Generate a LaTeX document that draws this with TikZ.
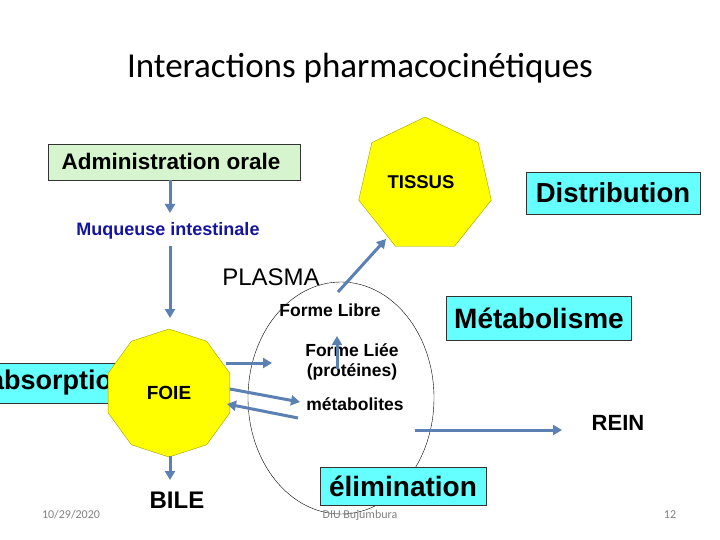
\documentclass[tikz,border=0pt]{standalone}
\usepackage{fontspec}
\setmainfont{Liberation Sans}
\newfontfamily\calfont{Carlito}
\usetikzlibrary{shapes.geometric,arrows.meta}
\definecolor{arr}{HTML}{5A80B4}
\definecolor{cy}{HTML}{66FFFF}
\definecolor{lg}{HTML}{D6F5CF}
\definecolor{yel}{HTML}{FFFF00}
\definecolor{olive}{HTML}{A0A000}
\begin{document}
\begin{tikzpicture}[x=1pt,y=-1pt,
  ar/.style={draw=arr,line width=3pt,-{Triangle[length=9pt,width=10pt]}},
  cbox/.style={draw=black!80,fill=cy,inner sep=3pt},
  b/.style={font=\bfseries\fontsize{#1}{#1}\selectfont},
  r/.style={font=\fontsize{#1}{#1}\selectfont},
  foot/.style={text=gray,font=\calfont\fontsize{12}{14}\selectfont}]
\useasboundingbox (0,0) rectangle (720,540);
\node[font=\calfont\fontsize{35}{40}\selectfont] (title) at (360,68) {Interactions pharmacocinétiques};
\node[cbox,anchor=west,minimum height=40pt,b=27,inner sep=1pt] (abs) at (-12,383) {absorption};
\node[draw=olive,fill=yel,regular polygon,regular polygon sides=10,minimum size=128pt,rotate=18] (foie) at (169,393) {};
\node[b=19] (foiet) at (169,393) {FOIE};
\node[draw=black!80,fill=lg,minimum width=252pt,minimum height=36pt,anchor=north west] (adm) at (48,144) {};
\node[b=22.5] (admt) at (171,161) {Administration orale};
\node[b=18,text={rgb,255:red,20;green,20;blue,160}] (muq) at (168,231) {Muqueuse intestinale};
\node[draw=olive,fill=yel,regular polygon,regular polygon sides=7,minimum size=136pt] (tis) at (425,185) {};
\node[b=18.5] (tist) at (421,182) {TISSUS};
\node[cbox,minimum width=174pt,minimum height=42pt,b=27.5] (dist) at (613,193) {Distribution};
\node[draw,ellipse,minimum width=186pt,minimum height=232pt] (pl) at (341,398) {};
\node[r=24] (plt) at (271,277) {PLASMA};
\node[b=17.5] (fl) at (330,310) {Forme Libre};
\node[b=17.5,align=center] (fli) at (352,362) {Forme Liée\\[3pt](protéines)};
\node[b=17.5] (met) at (355,404) {métabolites};
\node[cbox,minimum width=185pt,minimum height=44pt,b=28] (metab) at (539,318) {Métabolisme};
\node[b=22] (rein) at (618,423) {REIN};
\node[b=24] (bile) at (177,500) {BILE};
\node[cbox,minimum width=166pt,minimum height=38pt,b=28] (elim) at (403,486) {élimination};
\node[foot] (d) at (71,515) {10/29/2020};
\node[foot] (diu) at (360,515) {DIU Bujumbura};
\node[foot] (pg) at (670,515) {12};
% arrows
\coordinate (a1) at (170,180); \coordinate (a2) at (170,213);
\draw[ar] (a1) -- (a2);
\coordinate (b1) at (170,246); \coordinate (b2) at (170,318);
\draw[ar] (b1) -- (b2);
\coordinate (c1) at (338,292); \coordinate (c2) at (386,239);
\draw[ar] (c1) -- (c2);
\coordinate (d1) at (337,369); \coordinate (d2) at (337,336);
\draw[ar] (d1) -- (d2);
\coordinate (e1) at (226,363); \coordinate (e2) at (272,363);
\draw[ar] (e1) -- (e2);
\coordinate (f1) at (230,389); \coordinate (f2) at (300,402);
\draw[ar] (f1) -- (f2);
\coordinate (g1) at (298,418); \coordinate (g2) at (227,404);
\draw[ar] (g1) -- (g2);
\coordinate (h1) at (415,430); \coordinate (h2) at (562,430);
\draw[ar] (h1) -- (h2);
\coordinate (i1) at (170,456); \coordinate (i2) at (170,480);
\draw[ar] (i1) -- (i2);
\end{tikzpicture}
\end{document}
